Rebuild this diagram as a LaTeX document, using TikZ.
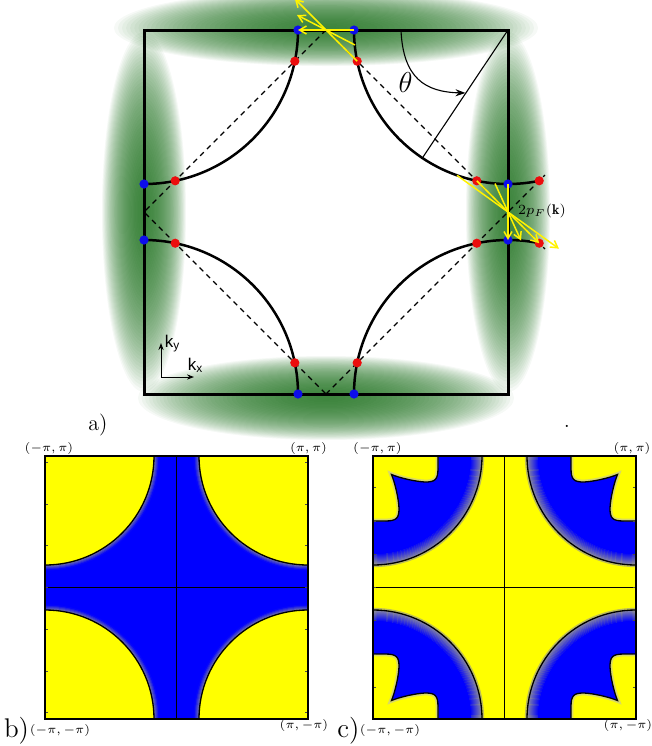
\documentclass[tikz,border=0pt]{standalone}
\usepackage{amsmath,amssymb,bm}
\usepackage{fontspec}
\usepackage{tikz}
\usetikzlibrary{arrows.meta,calc}
\newfontfamily\kfont{Liberation Sans}
\definecolor{blobgreen}{rgb}{0.05,0.40,0.05}
\definecolor{fsyellow}{rgb}{1,1,0}
\definecolor{fsblue}{rgb}{0,0,1}
\definecolor{dotblue}{rgb}{0.05,0.05,0.92}
\definecolor{dotred}{rgb}{0.92,0.05,0.05}
\definecolor{rimgray}{rgb}{0.50,0.50,0.62}
\definecolor{pktgray}{rgb}{0.52,0.52,0.64}
\definecolor{lobeedge}{rgb}{0.85,0.85,0.40}
% corner lobe of panel c, corner at the origin
\newcommand{\lobeline}{(65,0) -- (65,12) .. controls (65,24) and (62,26) .. (52,26)
  .. controls (42,25.5) and (27,22) .. (18.5,18.5)
  .. controls (22,27) and (25.5,42) .. (26,52)
  .. controls (26,62) and (24,65) .. (12,65) -- (0,65)}
\newcommand{\lobepath}{(0,0) -- \lobeline -- cycle}
\tikzset{
  bz/.style={draw=black, line width=1.5pt},
  fermi/.style={draw=black, line width=1.25pt},
  nestline/.style={draw=black, line width=0.55pt, dash pattern=on 2.6pt off 2.2pt},
  bdot/.style={circle, fill=dotblue, inner sep=0pt, minimum size=4.6pt},
  rdot/.style={circle, fill=dotred, inner sep=0pt, minimum size=4.6pt},
  yarr/.style={draw=yellow, line width=0.75pt, -{Straight Barb[length=3.5pt,width=4pt]}},
  blob/.style={fill=blobgreen, opacity=0.04},
  ring/.style={line width=0.65pt},
  contour/.style={draw=black, line width=0.65pt},
  frame/.style={draw=black, line width=0.75pt},
  cross/.style={draw=black, line width=0.6pt},
  tck/.style={draw=black!70, line width=0.4pt},
  corner/.style={font=\fontsize{6.5}{7}\selectfont, inner sep=0pt},
  plabel/.style={font=\fontsize{13.5}{15}\selectfont, inner sep=0pt},
}

\begin{document}
\begin{tikzpicture}[x=0.5pt,y=-0.5pt,
    kax/.style={draw=black, line width=0.5pt, -{Stealth[length=3.5pt,width=2.6pt]}},
    klab/.style={font=\kfont\fontsize{8.5}{9}\selectfont, inner sep=0pt}]
  \useasboundingbox (0,0) rectangle (652,746);

  % panel a
  \foreach \cx/\cy/\ax/\ay in {326/28/212/38, 326/398/188/42, 144/212/42/180, 508/212/42/180}
    \foreach \s in {1,...,40}
      \fill[blob] (\cx,\cy) ellipse[x radius={\ax*(\s/40)^0.75}, y radius={\ay*(\s/40)^0.75}];

  \coordinate (cTR) at (508,30);
  \coordinate (mT) at (326,30);
  \coordinate (mB) at (326,394);
  \coordinate (mL) at (144,212);
  \coordinate (eR1) at (545,249);
  \coordinate (eR2) at (545,175);
  \draw[nestline] (mT) -- (mL) -- (mB);
  \draw[nestline] (mT) -- (eR1);
  \draw[nestline] (mB) -- (eR2);

  \draw[bz] (144,30) rectangle (508,394);
  \draw[fermi] (298,30) arc[start angle=0, end angle=90, radius=154];
  \draw[fermi] (354,30) arc[start angle=180, end angle=78, radius=154];
  \draw[fermi] (298,394) arc[start angle=0, end angle=-90, radius=154];
  \draw[fermi] (354,394) arc[start angle=180, end angle=282, radius=154];

  \coordinate (fpt) at (423,157);
  \coordinate (thA) at (401,30);
  \coordinate (thB) at (465.5,93);
  \draw[line width=0.55pt] (cTR) -- (fpt);
  \draw[line width=0.55pt, -{Stealth[length=5pt,width=3.5pt]}]
    (thA) .. controls (403,78) and (425,92) .. (thB);
  \node[font=\Large, inner sep=0pt] (theta) at (405.5,82.5) {$\theta$};

  \node[bdot] (bT1) at (298,30) {};
  \node[bdot] (bT2) at (354,30) {};
  \node[bdot] (bB1) at (298,394) {};
  \node[bdot] (bB2) at (354,394) {};
  \node[bdot] (bL1) at (144,184) {};
  \node[bdot] (bL2) at (144,240) {};
  \node[bdot] (bR1) at (508,184) {};
  \node[bdot] (bR2) at (508,240) {};
  \node[rdot] (rT1) at (294.8,61.2) {};
  \node[rdot] (rT2) at (357.2,61.2) {};
  \node[rdot] (rB1) at (294.8,362.8) {};
  \node[rdot] (rB2) at (357.2,362.8) {};
  \node[rdot] (rL1) at (175.2,180.8) {};
  \node[rdot] (rL2) at (175.2,243.2) {};
  \node[rdot] (rR1) at (476.8,180.8) {};
  \node[rdot] (rR2) at (476.8,243.2) {};
  \node[rdot] (rR3) at (539.2,180.8) {};
  \node[rdot] (rR4) at (539.2,243.2) {};

  % 2p_F nesting vectors
  \coordinate (pA) at (355,45);
  \coordinate (qA) at (297,15);
  \coordinate (qC) at (294.8,-1.2);
  \coordinate (pD) at (495,183.5);
  \coordinate (qD) at (521,240.5);
  \coordinate (pE) at (457,175.3);
  \coordinate (qE) at (559,248.7);
  \draw[yarr] (bT2.center) -- (bT1.center);
  \draw[yarr] (pA) -- (qA);
  \draw[yarr] (rT2.center) -- (qC);
  \draw[yarr] (bR1.center) -- (bR2.center);
  \draw[yarr] (pD) -- (qD);
  \draw[yarr] (rR1.center) -- (rR4.center);
  \draw[yarr] (pE) -- (qE);
  \node[font=\scriptsize, inner sep=0pt] (pf) at (542,211) {$2p_F(\mathbf{k})$};

  \coordinate (kO) at (161,377);
  \coordinate (kY) at (161,343);
  \coordinate (kX) at (194,377);
  \draw[kax] (kO) -- (kY);
  \draw[kax] (kO) -- (kX);
  \node[klab] (ky) at (172.5,344) {k\textsubscript{y}};
  \node[klab] (kx) at (195.5,365) {k\textsubscript{x}};

  \node[font=\fontsize{11}{13}\selectfont, inner sep=0pt] (la) at (98,425) {a)};
  \node[inner sep=0pt] (dot) at (567,426) {.};

  % panel b
  \begin{scope}
    \clip (45,456) rectangle (308,719);
    \fill[fsblue] (45,456) rectangle (308,719);
    \foreach \cx/\cy in {45/456,308/456,45/719,308/719}{
      \fill[fsyellow] (\cx,\cy) circle[radius=109];
      \foreach \r in {110,...,114}
        \pgfmathsetmacro{\mix}{100-(\r-109)*19}
        \draw[ring, color=rimgray!\mix!fsblue] (\cx,\cy) circle[radius=\r];
      \draw[contour] (\cx,\cy) circle[radius=109];}
  \end{scope}
  \draw[cross] (176.5,456) -- (176.5,719);
  \draw[cross] (45,587.5) -- (308,587.5);
  \foreach \t in {-3,...,3}{
    \draw[tck] (45,{587.5+41.7*\t}) -- ++(3,0);
    \draw[tck] (308,{587.5+41.7*\t}) -- ++(-3,0);}
  \draw[frame] (45,456) rectangle (308,719);
  \node[corner] (bTL) at (49,448) {$(-\pi,\pi)$};
  \node[corner] (bTR) at (308.5,448) {$(\pi,\pi)$};
  \node[corner] (bBL) at (60,730) {$(-\pi,-\pi)$};
  \node[corner] (bBR) at (304,725) {$(\pi,-\pi)$};
  \node[plabel] (lb) at (16.5,731) {b)};

  % panel c
  \begin{scope}
    \clip (373,456) rectangle (636,719);
    \fill[fsyellow] (373,456) rectangle (636,719);
    \foreach \cx/\cy in {373/456,636/456,373/719,636/719}{
      \draw[ring, color=pktgray!55!fsyellow] (\cx,\cy) circle[radius=110.5];
      \fill[fsblue] (\cx,\cy) circle[radius=98];
      \foreach \r in {98,...,109}
        \pgfmathsetmacro{\mix}{(\r-98)*100/11}
        \draw[ring, color=pktgray!\mix!fsblue] (\cx,\cy) circle[radius=\r];
      \draw[contour] (\cx,\cy) circle[radius=109];}
    \foreach \cx/\cy/\sx/\sy in {373/456/1/1,636/456/-1/1,373/719/1/-1,636/719/-1/-1}{
      \begin{scope}[shift={(\cx,\cy)}, xscale=\sx, yscale=\sy]
        \fill[fsyellow] \lobepath;
        \begin{scope}
          \clip \lobepath;
          \draw[line width=2.4pt, lobeedge] \lobeline;
        \end{scope}
        \draw[contour] \lobeline;
      \end{scope}}
  \end{scope}
  \draw[cross] (504.5,456) -- (504.5,719);
  \draw[cross] (373,587.5) -- (636,587.5);
  \foreach \t in {-3,...,3}{
    \draw[tck] (373,{587.5+33.3*\t}) -- ++(3,0);
    \draw[tck] (636,{587.5+33.3*\t}) -- ++(-3,0);}
  \draw[frame] (373,456) rectangle (636,719);
  \node[corner] (cTL) at (377.5,448) {$(-\pi,\pi)$};
  \node[corner] (cTR2) at (632,448) {$(\pi,\pi)$};
  \node[corner] (cBL) at (390,730) {$(-\pi,-\pi)$};
  \node[corner] (cBR) at (628,725) {$(\pi,-\pi)$};
  \node[plabel] (lc) at (348.5,731) {c)};
\end{tikzpicture}
\end{document}
